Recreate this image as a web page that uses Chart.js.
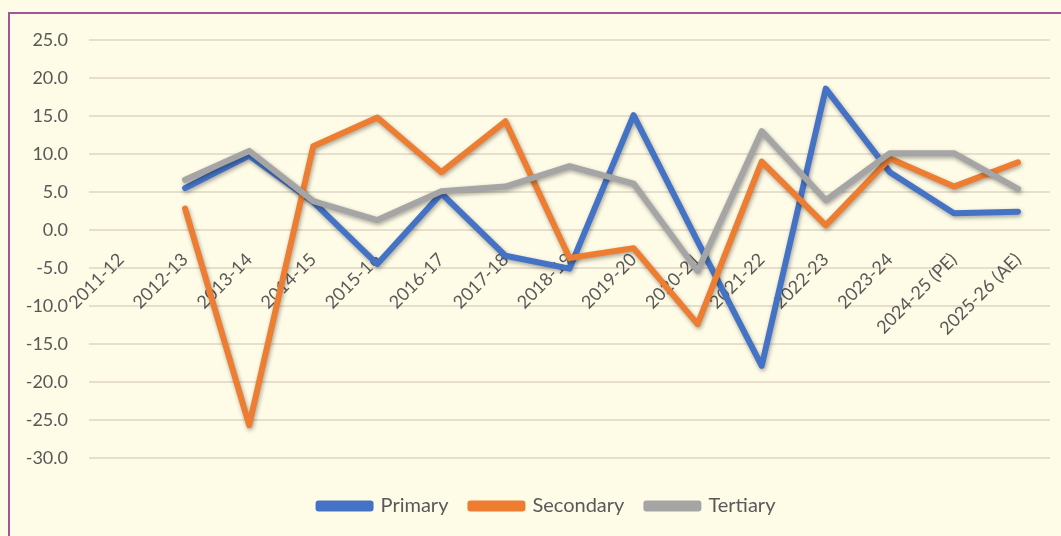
<!DOCTYPE html>
<html>
<head>
<meta charset="utf-8">
<script src="https://cdn.jsdelivr.net/npm/chart.js@4.4.1/dist/chart.umd.min.js"></script>
<style>
    html, body { margin: 0; padding: 0; background: #fefbe7; overflow: hidden; }
    #frame { position: absolute; left: 8px; top: 12px; width: 1100px; height: 600px; border: 2px solid #a3559a; }
    #wrap { position: absolute; left: 0; top: 0; width: 1061px; height: 536px; }
</style>
</head>
<body>
<div id="frame"></div>
<div id="wrap"><canvas id="myChart"></canvas></div>
<script>
const years = ["2011-12", "2012-13", "2013-14", "2014-15", "2015-16", "2016-17", "2017-18", "2018-19",
    "2019-20", "2020-21", "2021-22", "2022-23", "2023-24", "2024-25 (PE)", "2025-26 (AE)"];
const primary = [null, 5.5, 9.8, 3.7, -4.5, 4.8, -3.4, -5.1, 15.1, -1.5, -17.9, 18.6, 7.6, 2.2, 2.4];
const secondary = [null, 2.8, -25.7, 11.0, 14.8, 7.6, 14.3, -3.7, -2.4, -12.4, 9.0, 0.6, 9.4, 5.7, 8.9];
const tertiary = [null, 6.6, 10.4, 3.8, 1.3, 5.1, 5.7, 8.4, 6.1, -5.4, 13.0, 3.9, 10.1, 10.1, 5.4];
const yTicks = { min: -30, max: 25, step: 5 };

const textGrey = "#595959";
const fontFace = "Lato, 'Open Sans', sans-serif";

// soft drop shadow under the lines, like the Excel effect
const lineShadow = {
    id: "lineShadow",
    beforeDatasetDraw(chart) {
        const ctx = chart.ctx;
        ctx.save();
        ctx.shadowColor = "rgba(0,0,0,0.35)";
        ctx.shadowBlur = 4;
        ctx.shadowOffsetX = 1;
        ctx.shadowOffsetY = 2;
    },
    afterDatasetDraw(chart) {
        chart.ctx.restore();
    }
};

// the legend row sits a bit right of the canvas centre
const legendShift = {
    id: "legendShift",
    afterLayout(chart) {
        chart.legend.left += 22;
        chart.legend.right += 22;
    }
};

function series(label, data, color, order) {
    return {
        label: label,
        data: data,
        borderColor: color,
        backgroundColor: color,
        borderWidth: 6,
        borderJoinStyle: "round",
        borderCapStyle: "round",
        pointRadius: 0,
        tension: 0,
        order: order
    };
}

new Chart(document.getElementById("myChart"), {
    type: "line",
    data: {
        labels: years,
        datasets: [
            series("Primary", primary, "#4472c4", 3),
            series("Secondary", secondary, "#ed7d31", 2),
            series("Tertiary", tertiary, "#a5a5a5", 1)
        ]
    },
    options: {
        responsive: true,
        maintainAspectRatio: false,
        animation: false,
        layout: { padding: { top: 40, right: 11, bottom: 10, left: 0 } },
        scales: {
            x: {
                type: "category",
                offset: true,
                position: { y: 0 },
                grid: { display: false, drawTicks: false },
                border: { display: false },
                ticks: {
                    autoSkip: false,
                    minRotation: 45,
                    maxRotation: 45,
                    padding: 19,
                    color: textGrey,
                    font: { family: fontFace, size: 18 }
                }
            },
            y: {
                min: yTicks.min,
                max: yTicks.max,
                afterFit(scale) { scale.width = 89; },
                grid: { color: "#e7dfcb", lineWidth: 2, drawTicks: false },
                border: { display: false },
                ticks: {
                    stepSize: yTicks.step,
                    padding: 21,
                    color: textGrey,
                    font: { family: fontFace, size: 18 },
                    callback: v => v.toFixed(1)
                }
            }
        },
        plugins: {
            tooltip: { enabled: false },
            legend: {
                position: "bottom",
                // empty title only adds room above the legend row
                title: { display: true, text: "", padding: { top: 15, bottom: 0 }, font: { size: 1 } },
                labels: {
                    boxWidth: 52,
                    boxHeight: 5,
                    padding: 22,
                    color: textGrey,
                    font: { family: fontFace, size: 20 },
                    sort: (a, b) => a.datasetIndex - b.datasetIndex
                }
            }
        }
    },
    plugins: [lineShadow, legendShift]
});
</script>
</body>
</html>
